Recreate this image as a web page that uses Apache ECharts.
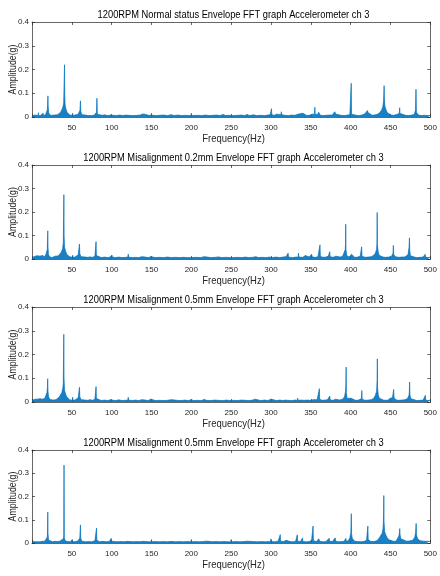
<!DOCTYPE html>
<html>
<head>
<meta charset="utf-8">
<script src="https://cdn.jsdelivr.net/npm/echarts@6/dist/echarts.min.js"></script>
<style>
  html, body { margin: 0; padding: 0; background: #fff; }
  #chart { width: 440px; height: 576px; }
</style>
</head>
<body>
<div id="chart"></div>
<script>
// Envelope FFT spectra, accelerometer channel 3, shaft at 1200 RPM.
// Each list holds [frequency (Hz), amplitude (g)] points of the spectrum.

const chartTitles = [
  '1200RPM Normal status Envelope FFT graph Accelerometer ch 3',
  '1200RPM Misalignment 0.2mm Envelope FFT graph Accelerometer ch 3',
  '1200RPM Misalignment 0.5mm Envelope FFT graph Accelerometer ch 3',
  '1200RPM Misalignment 0.5mm Envelope FFT graph Accelerometer ch 3'
];

const xAxisName = 'Frequency(Hz)';
const yAxisName = 'Amplitude(g)';
const freqRange = [0, 500, 50];     // min, max, tick step
const ampRange = [0, 0.4, 0.1];

const normalSpec = [
  [0.5,0.006],[2,0.004],[4,0.008],[6,0.005],[7.7,0.006],[8,0.018],[8.4,0.005],[11,0.007],[13,0.006],
  [13.7,0.006],[14,0.016],[14.4,0.006],[17,0.01],[18.5,0.018],[19.2,0.03],[19.6,0.054],[20,0.089],[20.3,0.045],
  [20.8,0.02],[22,0.01],[24.6,0.007],[25,0.012],[25.4,0.006],[28,0.008],[30,0.007],[32,0.009],[34,0.012],
  [36,0.02],[38,0.035],[39,0.045],[39.8,0.06],[40.4,0.15],[40.8,0.22],[41.1,0.09],[41.6,0.05],[42.5,0.035],
  [44,0.02],[45.5,0.013],[47,0.009],[49,0.007],[50.6,0.006],[51,0.016],[51.4,0.006],[54,0.008],[56,0.007],
  [58,0.012],[59.6,0.02],[60.2,0.028],[60.8,0.068],[61.3,0.022],[62.5,0.01],[65,0.006],[67,0.008],[70,0.006],
  [72,0.009],[75,0.006],[78,0.007],[80.5,0.012],[81,0.02],[81.5,0.079],[82,0.012],[84,0.006],[88,0.007],
  [91,0.009],[95,0.006],[98,0.008],[100,0.012],[102,0.007],[106,0.006],[110,0.008],[114,0.006],[118,0.008],
  [120.6,0.007],[121,0.014],[121.4,0.007],[127,0.006],[132,0.007],[136,0.008],[139,0.013],[141,0.012],
  [143,0.011],[146,0.007],[149.6,0.007],[150,0.016],[150.4,0.007],[156,0.006],[160,0.007],[165,0.008],
  [170,0.006],[175,0.01],[178,0.006],[183,0.008],[188,0.006],[193,0.007],[197,0.006],[199.6,0.006],[200,0.016],
  [200.4,0.006],[208,0.007],[210,0.012],[213,0.006],[218,0.008],[222,0.006],[227,0.007],[232,0.008],[236,0.006],
  [240,0.011],[243,0.006],[248,0.007],[250,0.014],[253,0.006],[258,0.007],[263,0.008],[267,0.006],[270,0.011],
  [273,0.006],[278,0.009],[282,0.006],[287,0.007],[292,0.006],[296,0.008],[299,0.01],[300.2,0.01],
  [300.6,0.035],[301,0.01],[304,0.007],[307,0.012],[309,0.007],[312.6,0.01],[313,0.022],[313.5,0.01],
  [315,0.012],[317,0.007],[322,0.006],[326,0.008],[330,0.007],[334,0.012],[336,0.007],[340,0.016],[342,0.008],
  [345,0.006],[349,0.008],[352,0.012],[354.6,0.012],[355,0.041],[355.4,0.012],[358,0.01],[360,0.02],
  [361.5,0.008],[365,0.006],[369,0.007],[373,0.008],[375,0.013],[377,0.008],[379,0.015],[380,0.022],
  [381.5,0.012],[384,0.006],[388,0.007],[392,0.006],[396,0.008],[399,0.01],[400.3,0.012],[400.7,0.142],
  [401.1,0.012],[403,0.008],[407,0.007],[411,0.006],[415,0.009],[418,0.014],[420,0.02],[421,0.027],
  [422,0.018],[424,0.01],[427,0.007],[431,0.009],[434,0.012],[437,0.02],[439,0.03],[440.5,0.045],[441.3,0.07],
  [441.7,0.1],[442,0.132],[442.3,0.08],[443,0.045],[444.5,0.03],[446,0.018],[448,0.01],[451,0.008],[454,0.007],
  [457,0.01],[459,0.014],[461.1,0.015],[461.5,0.039],[461.9,0.015],[464,0.008],[469,0.007],[473,0.006],
  [477,0.008],[480,0.012],[481.4,0.03],[482,0.117],[482.5,0.02],[485,0.008],[489,0.006],[493,0.007],
  [497,0.006],[500,0.006]
];

const misalign02Spec = [
  [0.5,0.006],[2,0.008],[4,0.012],[5,0.006],[7,0.014],[8,0.006],[10,0.012],[11,0.006],[13,0.015],[14,0.007],
  [16,0.01],[17.5,0.02],[19.2,0.04],[19.5,0.08],[19.8,0.12],[20.1,0.05],[20.6,0.02],[22,0.01],[24,0.012],
  [25,0.006],[27,0.008],[29,0.012],[31,0.01],[33,0.013],[35,0.018],[37,0.03],[38.5,0.045],[39.3,0.07],
  [39.7,0.18],[40,0.274],[40.3,0.1],[40.8,0.05],[42,0.035],[43.5,0.02],[45,0.014],[47,0.01],[49,0.008],
  [50.6,0.007],[51,0.016],[51.4,0.007],[54,0.008],[56,0.01],[58,0.018],[59.2,0.025],[59.6,0.064],[60,0.022],
  [61.5,0.01],[64,0.006],[67,0.008],[70,0.007],[73,0.009],[76,0.007],[79,0.012],[80,0.02],[80.4,0.074],
  [80.8,0.015],[83,0.007],[87,0.006],[91,0.008],[95,0.006],[98,0.008],[100,0.008],[100.4,0.017],[100.8,0.008],
  [105,0.006],[109,0.008],[113,0.006],[117,0.007],[120.4,0.008],[120.8,0.021],[121.2,0.008],[126,0.006],
  [130,0.007],[134,0.006],[138,0.01],[140,0.011],[142,0.008],[146,0.006],[149,0.01],[151,0.007],[155,0.006],
  [160,0.007],[165,0.006],[170,0.008],[175,0.006],[180,0.007],[185,0.006],[190,0.007],[195,0.006],[199.6,0.006],
  [200,0.014],[200.4,0.006],[207,0.007],[212,0.006],[216,0.01],[220,0.008],[225,0.006],[230,0.007],[234,0.009],
  [238,0.006],[243,0.007],[248,0.006],[250,0.012],[253,0.006],[258,0.007],[263,0.006],[268,0.008],[272,0.006],
  [277,0.007],[281,0.01],[284,0.006],[289,0.007],[294,0.006],[298,0.008],[300,0.013],[302,0.006],[306,0.008],
  [311,0.006],[315,0.008],[319,0.01],[321.1,0.01],[321.5,0.025],[321.9,0.008],[327,0.006],[331,0.008],
  [334.1,0.008],[334.5,0.025],[334.9,0.008],[340,0.007],[343,0.015],[345,0.007],[348,0.008],[351,0.02],
  [352,0.008],[354.5,0.012],[356,0.007],[359,0.01],[361.1,0.012],[361.5,0.06],[361.9,0.012],[365,0.007],
  [369,0.008],[372,0.012],[373.4,0.01],[373.8,0.031],[374.2,0.01],[378,0.007],[381.5,0.012],[383,0.007],
  [387,0.008],[390,0.012],[392,0.02],[393.2,0.04],[393.6,0.067],[393.8,0.148],[394.1,0.04],[395,0.015],
  [398,0.008],[400,0.014],[401,0.02],[402.5,0.012],[405,0.007],[409,0.008],[412,0.012],[413.4,0.015],
  [413.8,0.052],[414.2,0.012],[418,0.007],[422,0.008],[426,0.01],[429,0.016],[431,0.025],[432.5,0.04],
  [433,0.067],[433.3,0.198],[433.6,0.06],[434.5,0.03],[436,0.015],[438,0.01],[441,0.008],[444,0.007],
  [447,0.008],[449.5,0.015],[451,0.01],[452.5,0.018],[453.2,0.025],[453.6,0.058],[454,0.02],[456,0.01],
  [460,0.007],[464,0.008],[468,0.009],[470.5,0.012],[472,0.018],[473.3,0.05],[473.8,0.09],[474.2,0.035],
  [475,0.014],[477,0.009],[480,0.008],[483,0.006],[487,0.007],[491,0.008],[493.1,0.008],[493.5,0.02],
  [493.9,0.008],[497,0.006],[500,0.007]
];

const misalign05aSpec = [
  [0.5,0.007],[2,0.01],[4,0.012],[5,0.006],[7,0.012],[8,0.007],[10,0.014],[11,0.007],[13,0.012],[14,0.008],
  [16,0.015],[17.5,0.022],[18.8,0.04],[19.3,0.06],[19.7,0.098],[20,0.05],[20.6,0.025],[22,0.012],[24,0.01],
  [26,0.008],[28,0.012],[30,0.01],[32,0.014],[34,0.02],[36,0.028],[37.5,0.04],[38.8,0.06],[39.3,0.08],
  [39.6,0.18],[39.9,0.285],[40.2,0.1],[40.8,0.05],[42,0.035],[43.5,0.022],[45,0.015],[47,0.01],[49,0.009],
  [50.6,0.007],[51,0.02],[51.4,0.007],[54,0.008],[56,0.01],[58,0.018],[59.2,0.025],[59.6,0.062],[60,0.022],
  [61.5,0.01],[64,0.007],[67,0.008],[70,0.007],[73,0.01],[76,0.007],[79,0.012],[80,0.018],[80.4,0.065],
  [80.8,0.015],[83,0.007],[87,0.006],[91,0.008],[95,0.006],[98,0.009],[100,0.008],[100.4,0.016],[100.8,0.008],
  [105,0.006],[109,0.009],[113,0.006],[117,0.007],[120.4,0.008],[120.8,0.02],[121.2,0.008],[126,0.006],
  [130,0.008],[134,0.006],[138,0.01],[140,0.012],[142,0.008],[146,0.006],[149,0.012],[151,0.007],[155,0.006],
  [160,0.007],[165,0.006],[170,0.007],[175,0.01],[177,0.006],[182,0.007],[187,0.006],[192,0.008],[196,0.006],
  [200,0.01],[203,0.006],[208,0.007],[213,0.006],[216,0.011],[219,0.007],[224,0.006],[229,0.008],[234,0.007],
  [239,0.006],[244,0.008],[248,0.006],[250,0.013],[253,0.007],[258,0.006],[263,0.008],[268,0.007],[273,0.006],
  [277,0.008],[280,0.012],[282,0.007],[287,0.006],[292,0.008],[296,0.006],[300,0.012],[302,0.007],[307,0.006],
  [311,0.008],[315,0.006],[318,0.008],[320.1,0.007],[320.5,0.015],[320.9,0.007],[326,0.006],[330,0.008],
  [333.1,0.007],[333.5,0.016],[333.9,0.007],[338,0.008],[340.1,0.007],[340.5,0.016],[340.9,0.007],[346,0.008],
  [349.1,0.007],[349.5,0.015],[349.9,0.007],[353.5,0.01],[355,0.007],[358,0.01],[360.3,0.012],[360.7,0.056],
  [361.1,0.012],[364,0.007],[368,0.008],[371,0.01],[373.4,0.01],[373.8,0.025],[374.2,0.009],[378,0.007],
  [381,0.012],[382.5,0.007],[386,0.008],[390,0.012],[392.3,0.022],[393.6,0.045],[394,0.075],[394.3,0.147],
  [394.6,0.04],[395.5,0.015],[398,0.009],[400.5,0.016],[401.5,0.02],[403,0.01],[406,0.007],[410,0.008],
  [412.5,0.012],[413.6,0.015],[414,0.048],[414.4,0.012],[418,0.007],[422,0.008],[426,0.01],[429,0.016],
  [431,0.028],[432.6,0.045],[433.2,0.094],[433.5,0.182],[433.8,0.06],[434.6,0.03],[436,0.016],[438,0.01],
  [441,0.008],[444,0.007],[447,0.008],[449.3,0.008],[449.7,0.016],[450.1,0.008],[452.5,0.018],[453.6,0.025],
  [454,0.053],[454.4,0.02],[456.5,0.01],[460,0.007],[464,0.008],[468,0.009],[471,0.014],[473,0.025],
  [473.6,0.04],[474,0.084],[474.4,0.03],[475.5,0.014],[478,0.009],[483,0.006],[487,0.007],[491,0.008],
  [493.4,0.008],[493.8,0.028],[494.2,0.008],[497,0.006],[500,0.007]
];

const misalign05bSpec = [
  [0.5,0.006],[3,0.008],[5,0.005],[7,0.007],[10,0.005],[13,0.007],[16,0.008],[18,0.012],[19.2,0.025],
  [19.5,0.05],[19.8,0.133],[20.1,0.04],[20.8,0.012],[23,0.006],[26,0.005],[29,0.007],[32,0.006],[35,0.008],
  [37.5,0.01],[39.3,0.018],[39.9,0.03],[40.2,0.335],[40.5,0.025],[41.5,0.01],[45,0.006],[48,0.005],
  [50.1,0.005],[50.5,0.015],[50.9,0.005],[55,0.006],[58,0.01],[60,0.022],[60.4,0.03],[60.8,0.078],
  [61.2,0.02],[62.5,0.008],[67,0.005],[71,0.006],[75,0.005],[79,0.01],[80.6,0.015],[81,0.064],[81.4,0.012],
  [85,0.005],[89,0.007],[93,0.005],[97,0.006],[99.1,0.006],[99.5,0.02],[99.9,0.008],[102,0.013],[103.5,0.006],
  [108,0.005],[112,0.006],[116,0.005],[119,0.007],[121,0.009],[123,0.006],[127,0.005],[131,0.006],[135,0.005],
  [139,0.007],[141.5,0.012],[143,0.006],[147,0.005],[149.6,0.005],[150,0.015],[150.4,0.005],[155,0.006],
  [160,0.005],[165,0.006],[170,0.005],[175,0.007],[180,0.005],[185,0.006],[190,0.005],[195,0.006],
  [199.6,0.005],[200,0.015],[200.4,0.005],[205,0.006],[210,0.005],[215,0.006],[218,0.008],[220,0.012],
  [222,0.007],[226,0.005],[231,0.006],[236,0.005],[241,0.006],[246,0.005],[249.6,0.005],[250,0.015],
  [250.4,0.005],[256,0.006],[261,0.005],[266,0.006],[270,0.008],[271.6,0.006],[272,0.015],[272.4,0.005],
  [278,0.006],[283,0.005],[288,0.006],[293,0.005],[297,0.006],[299.6,0.006],[300,0.018],[300.4,0.006],
  [305,0.005],[309,0.008],[311.2,0.008],[311.6,0.036],[312,0.008],[316,0.006],[318.4,0.006],[318.8,0.012],
  [319.2,0.005],[324,0.006],[328,0.005],[331,0.008],[332.6,0.008],[333,0.035],[333.4,0.008],[337,0.006],
  [339.2,0.006],[339.6,0.022],[340,0.006],[344,0.005],[348,0.006],[351,0.012],[352.4,0.012],[352.8,0.073],
  [353.2,0.01],[357,0.006],[359,0.01],[360,0.018],[361,0.007],[365,0.005],[369,0.006],[371.5,0.01],[373,0.02],
  [373.6,0.007],[377,0.006],[379,0.01],[380.6,0.022],[381.2,0.008],[385,0.005],[389,0.006],[392,0.008],
  [393.6,0.007],[394,0.02],[394.4,0.007],[397,0.01],[399,0.022],[400.2,0.045],[400.5,0.08],[400.8,0.126],
  [401.1,0.04],[402,0.02],[403.5,0.012],[405,0.008],[409,0.006],[413,0.005],[417,0.007],[420,0.012],
  [421.2,0.015],[421.6,0.073],[422,0.015],[425,0.007],[429,0.006],[433,0.01],[436,0.022],[438,0.03],
  [439.5,0.042],[440.6,0.06],[441.1,0.09],[441.4,0.138],[441.6,0.204],[441.9,0.09],[442.6,0.05],[444,0.035],
  [446,0.022],[448.5,0.013],[449.6,0.01],[450,0.018],[450.4,0.009],[454,0.007],[457,0.008],[459,0.013],
  [460.6,0.03],[461.2,0.045],[461.6,0.062],[462,0.035],[463,0.018],[465,0.01],[470,0.008],[474,0.009],
  [478,0.012],[480.5,0.025],[481.5,0.045],[481.8,0.06],[482.2,0.084],[482.6,0.035],[484,0.018],[487,0.01],
  [491,0.008],[495,0.007],[500,0.007]
];

const spectra = [normalSpec, misalign02Spec, misalign05aSpec, misalign05bSpec];

// ---- layout ----
const W = 440;
const plotLeft = 32, plotRight = 5;
const plotTops = [22, 165, 307, 450];
const plotHeights = [95, 94, 95, 93];
const plotCenterX = plotLeft + (W - plotLeft - plotRight) / 2;

const FONT = '"Liberation Sans", Arial, Helvetica, sans-serif';
const AX = '#262626';
const LINE = '#0072BD';

const grids = [], xAxes = [], yAxes = [], series = [], texts = [];

spectra.forEach((spec, i) => {
  const top = plotTops[i], h = plotHeights[i];
  grids.push({ left: plotLeft, right: plotRight, top: top, height: h, containLabel: false });

  // narrow (condensed) text for title and axis names
  texts.push({
    type: 'text', x: plotCenterX, y: top - 7.5, scaleX: 0.81, silent: true,
    style: { text: chartTitles[i], font: '11.5px ' + FONT, fill: '#000',
             textAlign: 'center', textVerticalAlign: 'middle' }
  });
  texts.push({
    type: 'text', x: plotCenterX, y: top + h + 22, scaleX: 0.86, silent: true,
    style: { text: xAxisName, font: '11px ' + FONT, fill: AX,
             textAlign: 'center', textVerticalAlign: 'middle' }
  });
  texts.push({
    type: 'text', x: 13, y: top + h / 2, rotation: Math.PI / 2, scaleX: 0.8, silent: true,
    style: { text: yAxisName, font: '11px ' + FONT, fill: AX,
             textAlign: 'center', textVerticalAlign: 'middle' }
  });

  const tickLine = { show: true, inside: true, length: 3, lineStyle: { color: AX, width: 0.7 } };
  const axLine = { show: true, onZero: false, lineStyle: { color: AX, width: 0.7 } };

  // bottom frequency axis
  xAxes.push({
    type: 'value', gridIndex: i, position: 'bottom',
    min: freqRange[0], max: freqRange[1], interval: freqRange[2],
    axisLine: axLine, axisTick: tickLine, splitLine: { show: false },
    axisLabel: { margin: 7, fontFamily: FONT, fontSize: 8, color: AX,
                 formatter: v => (v === 0 ? '' : String(v)) }
  });
  // top frame edge with mirrored ticks
  xAxes.push({
    type: 'value', gridIndex: i, position: 'top',
    min: freqRange[0], max: freqRange[1], interval: freqRange[2],
    axisLine: axLine, axisTick: tickLine, splitLine: { show: false },
    axisLabel: { show: false }
  });
  // left amplitude axis
  yAxes.push({
    type: 'value', gridIndex: i, position: 'left',
    min: ampRange[0], max: ampRange[1], interval: ampRange[2],
    axisLine: axLine, axisTick: tickLine, splitLine: { show: false },
    axisLabel: { margin: 3, fontFamily: FONT, fontSize: 8, color: AX }
  });
  // right frame edge with mirrored ticks
  yAxes.push({
    type: 'value', gridIndex: i, position: 'right',
    min: ampRange[0], max: ampRange[1], interval: ampRange[2],
    axisLine: axLine, axisTick: tickLine, splitLine: { show: false },
    axisLabel: { show: false }
  });

  series.push({
    type: 'line',
    xAxisIndex: i * 2, yAxisIndex: i * 2,
    data: spec,
    showSymbol: false, symbol: 'none',
    sampling: null,
    lineStyle: { color: LINE, width: 0.7 },
    areaStyle: { color: LINE, opacity: 0.9 },
    z: 1
  });
});

const chart = echarts.init(document.getElementById('chart'), null, { renderer: 'canvas' });
chart.setOption({
  animation: false,
  backgroundColor: '#fff',
  grid: grids,
  xAxis: xAxes,
  yAxis: yAxes,
  series: series,
  graphic: { elements: texts }
});
</script>
</body>
</html>
